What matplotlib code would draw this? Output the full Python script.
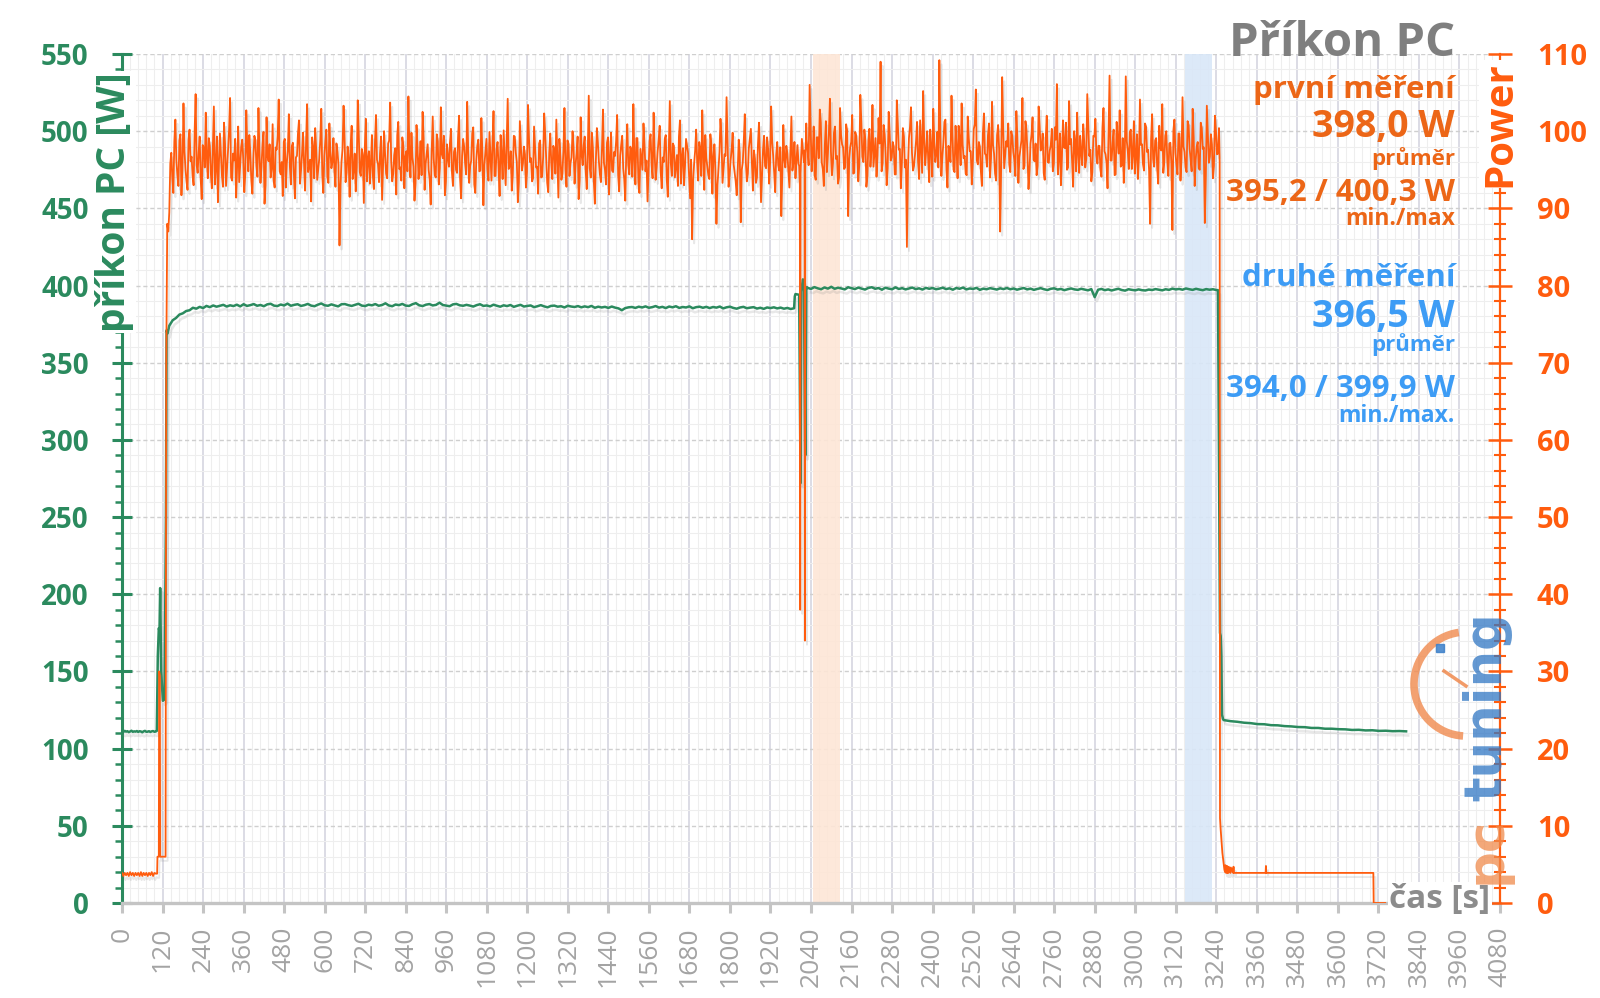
# ==========================================================
# Příkon PC - power draw chart (two measurements)
# ==========================================================

import numpy as np
import matplotlib
matplotlib.use("Agg")
import matplotlib.pyplot as plt
import matplotlib.patheffects as pe
from matplotlib.patches import Arc
from matplotlib.lines import Line2D

plt.rcParams["font.family"] = ["Open Sans", "DejaVu Sans"]

# ==========================================================
# Data
# ==========================================================

# orange series, right axis units (Power)
ORANGE_IDLE = [3.9, 3.5, 3.9, 3.6, 3.9, 3.5, 4.0, 3.6, 3.9, 3.5, 3.9, 3.6, 3.9,
               3.5, 4.0, 3.5, 3.9, 3.6, 3.9, 3.5, 3.9, 3.6, 4.0, 3.5, 3.9, 3.8]
ORANGE_RAMP_T = [104, 105, 109, 110, 112, 113, 129, 131, 134, 137]
ORANGE_RAMP = [3.8, 6.0, 6.0, 30.0, 29.5, 6.0, 6.0, 70.0, 88.0, 87.0]

# first load run, samples every 6 s from 140 s
ORANGE_RUN1 = [
    89.5, 97.2, 92.0, 101.5, 94.3, 98.8, 91.7, 103.6, 95.1, 92.4, 100.2, 96.7, 93.0, 104.8, 94.6, 99.3, 91.2, 97.8, 102.4, 93.9,
    98.1, 92.6, 103.2, 95.4, 90.8, 99.7, 94.2, 101.1, 92.9, 97.5, 104.3, 93.6, 96.2, 91.4, 100.6, 95.8, 98.9, 92.1, 102.7, 94.8,
    97.0, 91.9, 99.4, 95.5, 103.0, 93.3, 98.2, 90.6, 101.8, 96.1, 94.0, 100.9, 92.7, 97.6, 104.1, 94.4, 91.6, 99.0, 95.9, 102.2,
    93.1, 98.5, 91.3, 96.8, 101.4, 94.9, 99.8, 92.3, 103.5, 95.6, 90.9, 97.9, 100.4, 93.7, 96.4, 102.9, 92.0, 98.6, 94.1, 101.0,
    95.2, 99.1, 92.8, 97.3, 85.2, 96.0, 103.3, 93.4, 98.0, 91.5, 100.7, 95.0, 92.2, 104.0, 94.7, 97.7, 90.7, 101.6, 96.3, 93.2,
    99.5, 92.5, 102.1, 95.7, 97.1, 91.1, 100.0, 94.5, 98.4, 103.7, 93.5, 96.9, 91.8, 101.2, 95.3, 99.2, 92.6, 97.4, 104.5, 94.0,
    96.6, 91.0, 100.8, 93.8, 98.7, 102.5, 92.4, 97.0, 95.0, 90.5, 101.9, 94.3, 99.6, 93.1, 103.1, 96.5, 91.7, 98.3, 95.4, 100.3,
    92.9, 97.8, 94.6, 102.0, 91.3, 99.0, 95.8, 103.8, 93.3, 96.2, 100.5, 92.0, 98.1, 94.8, 101.7, 90.4, 97.3, 95.1, 99.9, 93.6,
    102.6, 94.2, 98.6, 91.6, 96.9, 100.1, 93.0, 104.2, 95.5, 92.3, 99.4, 97.2, 90.8, 101.3, 94.9, 98.0, 92.7, 103.4, 96.0, 93.5,
    100.6, 95.3, 91.9, 98.8, 94.1, 102.3, 96.4, 92.1, 99.7, 93.8, 97.6, 101.5, 91.4, 96.7, 94.5, 103.0, 92.8, 98.4, 95.9, 100.0,
    93.2, 97.1, 91.2, 101.8, 95.6, 99.3, 92.5, 104.6, 94.0, 97.9, 90.6, 100.4, 96.1, 93.4, 102.8, 95.0, 98.5, 91.8, 99.8, 94.7,
    96.8, 102.1, 92.2, 98.2, 95.2, 91.0, 100.9, 94.4, 97.5, 103.5, 93.1, 99.1, 92.0, 96.3, 101.0, 94.8, 90.9, 98.7, 95.7, 102.4,
    93.7, 97.4, 100.7, 92.6, 96.0, 99.5, 91.5, 103.9, 94.2, 98.1, 95.4, 92.9, 101.4, 96.6, 93.0, 99.0, 97.2, 91.3, 86.0, 95.8,
    100.2, 93.6, 97.7, 102.7, 92.4, 96.5, 94.3, 99.6, 91.9, 98.3, 88.0, 95.0, 101.6, 93.3, 97.0, 104.4, 92.8, 96.2, 99.8, 94.6,
    91.7, 98.9, 88.2, 95.9, 102.2, 93.5, 97.8, 100.3, 92.3, 96.4, 94.0, 101.1, 90.8, 97.6, 95.5, 99.2, 93.2, 103.2, 96.8, 92.1,
    98.6, 94.9, 89.0, 100.8, 95.3, 97.1, 92.7, 101.9, 96.0, 93.9, 98.2,
]
# samples in between (3 s later)
ORANGE_RUN1_MID = [
    95.8, 93.9, 98.7, 96.2, 92.9, 99.6, 95.0, 97.4, 93.5, 98.9, 96.1, 94.2, 99.8, 95.6, 97.3, 93.8, 98.2, 95.3, 96.9, 99.1,
    94.6, 97.8, 93.1, 99.3, 95.9, 96.8, 92.8, 98.4, 95.2, 100.1, 94.0, 97.1, 99.0, 95.7, 93.4, 98.0, 96.4, 94.5, 97.7, 99.5,
    93.6, 96.5, 98.8, 94.1, 97.2, 95.4, 99.9, 93.0, 96.7, 98.3, 95.1, 93.7, 97.9, 99.4, 94.8, 96.0, 98.6, 92.7, 97.5, 95.5,
    98.1, 94.4, 96.6, 99.7, 93.2, 97.0, 95.8, 98.5, 94.7, 96.3, 99.2, 93.9, 97.6, 95.0, 98.9, 94.3, 96.8, 100.2, 93.3, 97.3,
    96.0, 94.9, 98.4, 95.6, 93.0, 97.7, 99.0, 94.6, 96.5, 98.2, 93.8, 97.1, 95.3, 99.6, 94.2, 96.9, 98.0, 93.5, 97.4, 95.9,
    94.1, 98.6, 96.3, 93.4, 99.3, 95.7, 97.0, 93.9, 98.8, 96.2, 94.5, 97.8, 99.5, 95.1, 93.6, 98.1, 96.7, 94.8, 97.2, 99.8,
    95.4, 93.2, 97.9, 96.1, 94.3, 99.1, 95.8, 98.3, 93.7, 97.5, 96.4, 94.0, 98.7, 95.2, 97.0, 99.4, 93.5, 96.6, 98.5, 94.6,
    97.3, 95.0, 99.2, 93.9, 96.8, 98.0, 94.4, 97.6, 95.5, 99.7, 93.1, 96.2, 98.9, 94.9, 97.1, 95.6, 99.0, 93.6, 96.9, 98.4,
    94.2, 97.7, 95.3, 99.5, 93.8, 96.4, 98.6, 95.1, 97.4, 94.3, 99.3, 96.0, 93.4, 98.2, 95.8, 97.0, 94.7, 99.1, 96.5, 93.9,
    97.8, 95.4, 98.4, 94.0, 96.7, 99.6, 93.3, 97.2, 95.9, 98.1, 94.5, 96.3, 99.0, 93.7, 97.5, 95.1, 98.8, 94.2, 96.6, 97.9,
    95.7, 99.3, 93.6, 96.9, 98.2, 94.8, 97.0, 95.2, 99.8, 93.5, 96.1, 98.5, 94.4, 97.6, 95.9, 93.1, 99.2, 96.4, 94.9, 97.3,
    98.7, 94.3, 96.8, 99.4, 93.8, 97.1, 95.6, 98.0, 94.1, 96.5, 99.1, 93.4, 97.7, 95.0, 98.3, 96.2, 94.6, 99.6, 93.9, 97.2,
    95.3, 98.9, 94.7, 96.6, 99.0, 93.7, 97.4, 95.8, 98.4, 94.0, 96.9, 99.3, 93.2, 97.8, 95.5, 98.1, 94.4, 96.3, 93.6, 97.5,
    96.0, 98.6, 94.2, 97.0, 99.5, 95.4, 93.8, 98.2, 96.7, 94.9, 93.0, 97.3, 99.2, 95.1, 96.8, 98.5, 94.3, 97.6, 95.7, 93.5,
    94.8, 97.2, 95.0, 98.8, 96.1, 94.5, 99.0, 95.9, 97.5, 93.3, 98.3, 96.4, 94.1, 99.4, 95.2, 97.7, 96.0, 98.7, 94.6, 96.9,
    95.6, 97.9, 94.4, 96.3, 98.1, 95.0, 97.4, 94.9, 98.6, 96.2, 95.8,
]

ORANGE_GAP_T = [2005, 2007, 2008, 2009, 2013, 2019, 2021, 2022, 2023, 2026]
ORANGE_GAP = [95.5, 93.0, 38.0, 94.5, 99.0, 96.0, 97.5, 34.0, 95.0, 101.0]

# second load run, samples every 6 s from 2030 s
ORANGE_RUN2 = [
    97.5, 106.0, 94.8, 100.6, 93.7, 99.2, 102.8, 95.9, 92.9, 101.3, 97.1, 104.2, 94.3, 99.8, 96.4, 93.2, 103.0, 98.3, 95.1, 100.9,
    89.0, 97.9, 102.1, 94.6, 99.4, 93.5, 104.7, 96.7, 100.2, 92.8, 98.8, 95.4, 103.4, 97.3, 94.1, 101.7, 109.0, 95.8, 99.6, 93.0,
    102.5, 96.2, 98.6, 94.4, 104.0, 97.6, 92.6, 100.4, 95.3, 85.0, 99.1, 103.1, 94.9, 97.0, 101.2, 93.8, 98.1, 105.2, 95.6, 100.0,
    93.4, 97.8, 102.9, 96.0, 99.9, 109.2, 94.2, 98.5, 101.5, 92.7, 97.2, 104.6, 95.0, 100.7, 93.9, 98.9, 103.6, 96.5, 94.5, 101.9,
    97.4, 93.1, 100.3, 105.4, 95.7, 98.0, 92.9, 102.3, 96.9, 99.5, 94.0, 103.8, 97.1, 93.6, 100.8, 87.0, 107.0, 95.2, 98.7, 101.0,
    94.7, 99.3, 96.3, 102.6, 93.3, 97.7, 104.3, 95.5, 100.1, 92.5, 98.4, 101.8, 96.1, 94.3, 103.2, 97.5, 99.7, 93.7, 102.0, 95.9,
    98.2, 94.8, 100.5, 106.1, 96.6, 93.0, 101.4, 97.8, 95.0, 103.9, 99.0, 92.8, 98.6, 102.4, 94.6, 97.2, 100.9, 95.3, 104.8, 96.8,
    93.5, 99.4, 101.6, 95.8, 98.1, 94.1, 103.0, 97.0, 92.6, 107.2, 96.2, 100.2, 94.4, 98.8, 102.7, 95.6, 93.3, 107.1, 97.4, 99.9,
    95.1, 101.3, 96.9, 93.8, 104.1, 98.3, 94.9, 100.6, 97.6, 88.0, 102.2, 95.4, 99.1, 93.2, 97.9, 103.5, 96.0, 100.0, 94.2, 98.5,
    87.2, 101.5, 95.7, 99.7, 93.6, 104.4, 97.3, 94.7, 100.8, 96.4, 102.9, 92.9, 98.0, 95.2, 101.1, 97.7, 88.1, 103.3, 95.9, 99.6,
    93.9, 102.0, 97.0, 100.4,
]
# samples in between (3 s earlier)
ORANGE_RUN2_MID = [
    98.9, 95.6, 100.4, 97.0, 94.3, 99.2, 96.5, 101.1, 95.1, 98.2, 94.7, 99.8, 97.4, 95.9, 100.6, 96.8, 94.0, 99.5, 97.9, 95.3,
    100.1, 96.2, 98.6, 94.5, 99.9, 97.3, 95.7, 101.3, 96.0, 98.8, 94.2, 100.3, 97.6, 95.4, 99.1, 96.9, 98.4, 94.8, 100.8, 97.1,
    95.2, 99.6, 96.6, 98.0, 94.4, 101.0, 97.7, 95.8, 99.3, 96.3, 94.9, 100.5, 97.2, 95.5, 98.7, 96.1, 101.4, 94.6, 99.0, 97.5,
    96.4, 100.2, 94.1, 98.5, 97.0, 95.3, 99.7, 96.7, 101.2, 95.0, 98.1, 96.0, 99.4, 94.7, 97.8, 100.7, 95.6, 98.3, 96.8, 94.3,
    99.1, 97.4, 95.9, 100.9, 96.2, 98.6, 94.8, 99.8, 97.1, 95.4, 101.0, 96.5, 98.2, 94.5, 99.5, 97.7, 95.2, 100.4, 96.9, 98.0,
    95.7, 100.0, 97.3, 94.2, 99.2, 96.6, 98.8, 95.1, 101.3, 97.0, 94.9, 99.6, 96.3, 98.4, 95.5, 100.6, 97.8, 94.6, 99.0, 96.0,
    97.5, 100.3, 95.8, 98.9, 94.4, 99.7, 96.7, 97.9, 101.1, 95.3, 98.3, 96.1, 100.0, 94.8, 97.2, 99.4, 95.6, 98.6, 96.4, 100.8,
    97.6, 94.7, 99.3, 96.9, 98.1, 95.0, 100.5, 97.4, 95.9, 99.8, 96.2, 98.5, 94.3, 101.2, 97.1, 95.4, 99.1, 96.6, 98.7, 95.1,
    100.2, 97.0, 94.5, 99.6, 96.8, 98.2, 95.7, 101.0, 97.3, 94.9, 99.0, 96.4, 98.8, 95.2, 100.7, 97.5, 94.6, 99.4, 96.1, 98.4,
    95.8, 100.1, 97.2, 94.4, 99.7, 96.5, 98.0, 95.3, 101.3, 97.7, 94.8, 99.2, 96.3, 98.6, 95.0, 100.4, 97.9, 94.2, 99.5, 96.7,
    98.3, 95.5, 100.0, 97.1,
]

ORANGE_END_T = [3250, 3251, 3253, 3258, 3264, 3266, 3267, 3269, 3271, 3272, 3274,
                3276, 3277, 3282, 3283, 3290, 3291, 3292, 3386, 3387, 3388, 3705,
                3706, 3740]
ORANGE_END = [96.0, 11.0, 9.5, 6.5, 4.3, 4.0, 4.9, 3.9, 3.9, 4.8, 3.9,
              3.9, 4.7, 3.9, 4.6, 3.9, 4.7, 3.9, 3.9, 4.8, 3.9, 3.9,
              0.0, 0.0]

# green series, left axis (W)
GREEN_IDLE = [111.2, 110.8, 111.5, 111.0, 111.3, 110.7, 111.1, 111.6, 110.9,
              111.2, 111.0, 111.4, 110.8, 111.3, 111.1, 110.6, 111.2, 111.5,
              110.9, 111.0, 111.3, 110.8, 111.2, 111.4, 110.9, 111.1]
GREEN_RAMP_T = [103, 106, 109, 111, 113, 116, 121, 126, 130, 132, 135]
GREEN_RAMP = [111.5, 160.0, 178.0, 176.0, 204.0, 150.0, 131.0, 132.0, 250.0, 371.0, 369.0]

GREEN_RUN1 = [
    374.0, 377.5, 379.0, 381.2, 382.0, 383.5, 384.0, 385.6, 385.0, 386.2, 385.4, 386.8, 386.0, 387.1, 386.3, 386.9, 387.5, 386.4, 387.2, 386.7,
    387.6, 386.5, 387.9, 386.8, 387.3, 388.0, 386.9, 387.4, 386.6, 387.8, 388.2, 387.0, 386.7, 387.7, 387.1, 388.3, 386.9, 387.5, 387.9, 386.8,
    387.3, 388.1, 387.0, 386.6, 387.6, 388.4, 387.2, 386.9, 387.8, 387.1, 386.5, 387.9, 388.0, 387.3, 386.8, 387.5, 388.2, 387.0, 386.7, 387.6,
    387.2, 388.0, 386.9, 387.4, 388.5, 387.1, 386.6, 387.7, 387.3, 388.1, 387.0, 386.8, 387.9, 388.6, 387.2, 386.7, 387.6, 388.0, 387.1, 387.5,
    388.9, 387.4, 387.0, 386.6, 387.8, 388.1, 387.2, 386.9, 387.5, 387.0, 386.4, 387.3, 387.9, 386.8, 387.1, 386.5, 387.6, 386.9, 386.3, 387.2,
    386.7, 387.4, 386.2, 386.9, 387.5, 386.4, 386.8, 387.1, 386.0, 386.6, 387.3, 386.5, 385.9, 386.8, 387.0, 386.3, 386.6, 385.8, 386.9, 386.4,
    386.1, 386.7, 385.9, 386.5, 386.0, 386.8, 385.6, 386.3, 385.8, 386.2, 385.5, 386.4, 385.7, 385.2, 384.0, 385.4, 385.9, 386.1, 385.5, 386.3,
    385.8, 386.5, 385.6, 386.0, 386.7, 385.7, 386.2, 385.4, 386.4, 385.9, 386.6, 385.5, 386.1, 385.8, 386.5, 385.3, 386.0, 386.3, 385.6, 386.2,
    385.4, 386.1, 385.7, 386.4, 385.2, 385.9, 386.3, 385.5, 385.0, 385.8, 386.2, 385.3, 385.7, 386.0, 385.1, 385.6, 384.9, 385.8, 385.4, 385.9,
    385.2, 385.7, 385.0, 385.5, 384.8, 385.3,
]

GREEN_GAP_T = [1992, 1994, 2005, 2009, 2011, 2016, 2019, 2023, 2026, 2028]
GREEN_GAP = [393.0, 394.5, 394.0, 272.0, 396.0, 404.0, 402.0, 290.0, 397.0, 399.0]

GREEN_RUN2 = [
    398.5, 397.8, 399.0, 398.2, 397.6, 398.8, 398.0, 399.2, 397.9, 398.6, 398.1, 397.5, 398.9, 398.3, 397.7, 398.7, 398.0, 397.4, 398.5, 398.9,
    397.9, 398.4, 397.3, 398.6, 398.0, 397.6, 398.8, 397.8, 398.3, 397.5, 398.1, 398.7, 397.7, 398.2, 397.4, 398.5, 397.9, 398.4, 397.6, 398.0,
    398.6, 397.7, 398.2, 397.3, 398.4, 397.9, 398.7, 397.5, 398.1, 397.8, 398.5, 397.2, 398.0, 397.6, 398.3, 397.9, 397.4, 398.2, 397.7, 398.4,
    397.6, 398.1, 397.3, 397.9, 398.4, 397.5, 398.0, 397.2, 397.8, 398.3, 397.6, 397.1, 397.9, 398.2, 397.4, 397.8, 397.0, 397.6, 398.1, 397.5,
    397.2, 397.9, 397.4, 396.9, 397.7, 392.5, 397.3, 397.8, 397.0, 397.5, 396.8, 397.4, 397.9, 397.1, 396.7, 397.6, 397.2, 396.9, 397.5, 397.0,
    396.8, 397.4, 397.1, 397.7, 397.3, 396.9, 397.6, 397.2, 398.0, 397.5, 397.8, 397.3, 398.1, 397.6, 397.2, 397.9, 397.4, 397.0, 397.7, 397.3,
    397.6, 397.1,
]

GREEN_END_T = [3245, 3251, 3253, 3255, 3257, 3260]
GREEN_END = [397.0, 175.0, 173.0, 160.0, 122.0, 119.0]

GREEN_TAIL = [118.5, 117.8, 117.4, 116.8, 116.5, 115.9, 115.8, 115.2, 115.1, 114.6,
              114.4, 114.0, 113.9, 113.4, 113.4, 112.9, 112.9, 112.6, 112.5, 112.1,
              112.2, 111.8, 111.9, 111.5, 111.6, 111.3, 111.4, 111.2]

# highlighted measurement windows (s)
SPAN_FIRST = (2045, 2125)
SPAN_SECOND = (3148, 3228)

# axis ticks
X_TICKS = list(range(0, 4081, 120))
LEFT_TICKS = list(range(0, 551, 50))
RIGHT_TICKS = list(range(0, 111, 10))

# ==========================================================
# Build series
# ==========================================================

run1_t = np.linspace(140, 2000, len(ORANGE_RUN1))
run2_t = np.linspace(2030, 3248, len(ORANGE_RUN2))

run1_t = np.column_stack([run1_t, run1_t + 3]).ravel()
run1_v = np.column_stack([ORANGE_RUN1, ORANGE_RUN1_MID]).ravel()
run2_t = np.column_stack([run2_t - 3, run2_t]).ravel()
run2_v = np.column_stack([ORANGE_RUN2_MID, ORANGE_RUN2]).ravel()

orange_t = np.concatenate([
    np.linspace(0, 100, len(ORANGE_IDLE)), ORANGE_RAMP_T,
    run1_t, ORANGE_GAP_T, run2_t, ORANGE_END_T,
])
orange_v = np.concatenate([ORANGE_IDLE, ORANGE_RAMP, run1_v, ORANGE_GAP,
                           run2_v, ORANGE_END])

green_t = np.concatenate([
    np.linspace(0, 100, len(GREEN_IDLE)), GREEN_RAMP_T,
    np.linspace(140, 1990, len(GREEN_RUN1)), GREEN_GAP_T,
    np.linspace(2030, 3240, len(GREEN_RUN2)), GREEN_END_T,
    np.linspace(3262, 3802, len(GREEN_TAIL)),
])
green_v = np.concatenate([GREEN_IDLE, GREEN_RAMP, GREEN_RUN1, GREEN_GAP,
                          GREEN_RUN2, GREEN_END, GREEN_TAIL])

# ==========================================================
# Colors
# ==========================================================

GREEN = "#2b8a5e"
ORANGE = "#ff5c0e"
ORANGE_TXT = "#ec6617"
BLUE_TXT = "#3d9cf5"
GRAY = "#8c8c8c"

# ==========================================================
# Figure
# ==========================================================

W, H = 1600, 998
fig = plt.figure(figsize=(16, 9.98), dpi=100)
ax = fig.add_axes([122 / W, 1 - 903 / H, (1500 - 122) / W, (903 - 54) / H])
ax2 = ax.twinx()

ax.set_xlim(0, 4080)
ax.set_ylim(0, 550)
ax2.set_ylim(0, 110)

# grid
ax.set_xticks(X_TICKS)
ax.set_xticks(range(0, 4081, 24), minor=True)
ax.set_yticks(LEFT_TICKS)
ax.set_yticks(range(0, 551, 10), minor=True)
ax2.set_yticks(RIGHT_TICKS)
ax2.set_yticks(range(0, 111, 2), minor=True)

ax.grid(which="minor", color="#eeeeee", linewidth=0.8)
ax.grid(which="major", axis="x", color="#d6d6e0", linewidth=1.2)
ax.grid(which="major", axis="y", color="#cfcfcf", linewidth=1.0,
        linestyle=(0, (3, 2)))
ax.set_axisbelow(True)

# measurement windows
ax.axvspan(*SPAN_FIRST, color="#fde6d6", alpha=0.9, lw=0, zorder=0.8)
ax.axvspan(*SPAN_SECOND, color="#d9e7f8", alpha=0.9, lw=0, zorder=0.8)

shadow = [pe.SimpleLineShadow(offset=(1.5, -3), shadow_color="#808080",
                              alpha=0.18), pe.Normal()]

ax.plot(green_t, green_v, color=GREEN, linewidth=1.8, zorder=3,
        path_effects=shadow)
ax2.plot(orange_t, orange_v, color=ORANGE, linewidth=1.3, zorder=3,
         path_effects=shadow)

# spines
for s in ["top", "right"]:
    ax.spines[s].set_visible(False)
for s in ["top", "left", "bottom"]:
    ax2.spines[s].set_visible(False)
ax.spines["left"].set_color(GREEN)
ax.spines["left"].set_linewidth(2.2)
ax.spines["bottom"].set_color("#c4c4c4")
ax.spines["bottom"].set_linewidth(2.4)
ax2.spines["right"].set_color(ORANGE)
ax2.spines["right"].set_linewidth(1.6)

# ticks
ax.tick_params(axis="x", which="major", direction="out", length=7, width=2.2,
               color="#c4c4c4", labelcolor="#a3a3a3", labelsize=19,
               labelrotation=90, pad=10)
ax.tick_params(axis="x", which="minor", length=0)
ax.tick_params(axis="y", which="major", direction="inout", length=14,
               width=2.2, color=GREEN, labelcolor=GREEN, labelsize=20,
               pad=17)
ax.tick_params(axis="y", which="minor", direction="out", length=5, width=1.8,
               color=GREEN)
ax2.tick_params(axis="y", which="major", direction="inout", length=17,
                width=1.8, color=ORANGE, labelcolor=ORANGE, labelsize=21,
                pad=18)
ax2.tick_params(axis="y", which="minor", direction="inout", length=9,
                width=1.5, color=ORANGE)
for lbl in ax.get_yticklabels() + ax2.get_yticklabels():
    lbl.set_fontweight("bold")

# ==========================================================
# Labels and texts
# ==========================================================

def fx(px):
    return px / W


def fy(py):
    return 1 - py / H


fig.text(fx(115), fy(202), "příkon PC [W]", rotation=90, ha="center",
         va="center", color=GREEN, fontsize=28, fontweight="bold",
         bbox=dict(fc="white", ec="none", pad=1))
fig.text(fx(1500), fy(124), "Power", rotation=90, ha="center", va="center",
         color=ORANGE, fontsize=29, fontweight="bold",
         bbox=dict(fc="white", ec="none", pad=1))
fig.text(fx(1440), fy(900), "čas [s]", ha="center", va="center", color=GRAY,
         fontsize=24, fontweight="bold",
         bbox=dict(fc="white", ec="none", pad=1))
fig.text(fx(1455), fy(44), "Příkon PC", ha="right", va="center",
         color="#7f7f7f", fontsize=34, fontweight="bold")

block = [
    ("první měření", 90, 22.5, ORANGE_TXT),
    ("398,0 W", 127, 27, ORANGE_TXT),
    ("průměr", 159, 16, ORANGE_TXT),
    ("395,2 / 400,3 W", 193, 22.5, ORANGE_TXT),
    ("min./max", 219, 16.5, ORANGE_TXT),
    ("druhé měření", 278, 22.5, BLUE_TXT),
    ("396,5 W", 317, 27, BLUE_TXT),
    ("průměr", 345, 16, BLUE_TXT),
    ("394,0 / 399,9 W", 389, 22.5, BLUE_TXT),
    ("min./max.", 416, 16.5, BLUE_TXT),
]
for text, y, size, col in block:
    fig.text(fx(1455), fy(y), text, ha="right", va="center", color=col,
             fontsize=size, fontweight="bold")

# ==========================================================
# Watermark logo
# ==========================================================

fig.add_artist(Arc((fx(1466), fy(684)), 2 * 52 / W, 2 * 52 / H,
                   theta1=95, theta2=268, color="#f08a4e", lw=5.5, alpha=0.8,
                   transform=fig.transFigure))
fig.add_artist(Line2D([fx(1466), fx(1444)], [fy(686), fy(671)],
                      color="#f08a4e", lw=2.5, alpha=0.85,
                      transform=fig.transFigure))
fig.add_artist(Line2D([fx(1440)], [fy(648)], marker="s", markersize=6,
                      color="#3b7fc9", alpha=0.85, transform=fig.transFigure))
fig.text(fx(1487), fy(707), "tuning", rotation=90, ha="center", va="center",
         color="#2f76c3", alpha=0.75, fontsize=37, fontweight="bold",
         family="DejaVu Sans")
fig.text(fx(1487), fy(850), "pc", rotation=90, ha="center", va="center",
         color="#f08a4b", alpha=0.75, fontsize=37, fontweight="bold",
         family="DejaVu Sans")

fig.savefig("out.png", dpi=100)
plt.close(fig)
